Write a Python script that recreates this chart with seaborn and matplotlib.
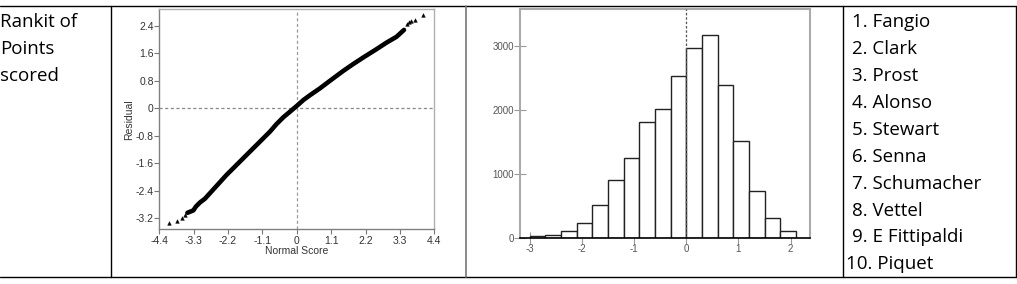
import numpy as np
import pandas as pd
import seaborn as sns
import matplotlib.pyplot as plt
from matplotlib.lines import Line2D

# Normal probability plot (dense part of the curve)
qq_score = [-3.50, -3.31, -3.23, -3.10, -2.94, -2.78, -2.57, -2.25, -1.93, -1.50,
            -1.18, -0.86, -0.65, -0.43, -0.22, 0.0, 0.21, 0.42, 0.74, 1.06,
            1.49, 1.81, 2.13, 2.55, 2.87, 3.19, 3.43]
qq_resid = [-3.04, -2.97, -2.86, -2.74, -2.63, -2.47, -2.26, -1.94, -1.65, -1.26,
            -0.97, -0.68, -0.46, -0.26, -0.10, 0.07, 0.24, 0.38, 0.58, 0.80,
            1.09, 1.29, 1.48, 1.72, 1.91, 2.08, 2.28]
# isolated points in the tails
tail_score = [-4.08, -3.82, -3.67, -3.58, 3.52, 3.60, 3.66, 3.78, 4.05]
tail_resid = [-3.34, -3.27, -3.20, -3.11, 2.45, 2.51, 2.55, 2.57, 2.71]

qq_xticks = [-4.4, -3.3, -2.2, -1.1, 0, 1.1, 2.2, 3.3, 4.4]
qq_xlabels = ['-4.4', '-3.3', '-2.2', '-1.1', '0', '1.1', '2.2', '3.3', '4.4']
qq_yticks = [-3.2, -2.4, -1.6, -0.8, 0, 0.8, 1.6, 2.4]
qq_ylabels = ['-3.2', '-2.4', '-1.6', '-0.8', '0', '0.8', '1.6', '2.4']

# Histogram of residuals
bin_edges = [-3.0, -2.7, -2.4, -2.1, -1.8, -1.5, -1.2, -0.9, -0.6, -0.3,
             0.0, 0.3, 0.6, 0.9, 1.2, 1.5, 1.8, 2.1]
bin_counts = [26, 42, 105, 225, 507, 910, 1255, 1819, 2012, 2530,
              2980, 3173, 2400, 1511, 726, 303, 105]
hist_xticks = [-3, -2, -1, 0, 1, 2]
hist_yticks = [0, 1000, 2000, 3000]

row_label = ['Rankit of', 'Points', 'scored']
drivers = ['1. Fangio', '2. Clark', '3. Prost', '4. Alonso', '5. Stewart',
           '6. Senna', '7. Schumacher', '8. Vettel', '9. E Fittipaldi', '10. Piquet']

sns.set_style('white')
plt.rcParams['font.family'] = ['Liberation Sans', 'DejaVu Sans']

W, H = 1017, 284
fig = plt.figure(figsize=(W / 100, H / 100), dpi=100)


def fx(px):
    return px / W


def fy(py):
    return 1 - py / H


# ---- table grid
grid = [((0, 6), (1016, 6), 'black', 1.0),
        ((0, 277), (1016, 277), 'black', 1.0),
        ((111, 6), (111, 277), 'black', 1.0),
        ((466, 6), (466, 277), '#777777', 1.2),
        ((843, 6), (843, 277), 'black', 1.0),
        ((1015.5, 6), (1015.5, 277), 'black', 1.0)]
for (x0, y0), (x1, y1), c, lw in grid:
    fig.add_artist(Line2D([fx(x0), fx(x1)], [fy(y0), fy(y1)],
                          transform=fig.transFigure, color=c, lw=lw))

# ---- text cells
for i, s in enumerate(row_label):
    fig.text(fx(0), fy(26.7 + 27 * i), s, fontsize=13.5, family='Open Sans',
             ha='left', va='baseline', color='black')
for i, s in enumerate(drivers):
    x0 = 846 if s.startswith('10') else 852
    fig.text(fx(x0), fy(27.3 + 26.9 * i), s, fontsize=13.5, family='Open Sans',
             ha='left', va='baseline', color='black')

# ---- normal probability plot
ax1 = fig.add_axes([fx(159.3), fy(229.3), fx(275), 220 / H])
ax1.axhline(0, color='#888888', lw=0.9, ls=(0, (2.5, 2)), zorder=1)
ax1.axvline(0, color='#999999', lw=0.9, ls=(0, (2.5, 2)), zorder=1)
sns.lineplot(x=qq_score, y=qq_resid, sort=False, color='black', lw=3.3,
             ax=ax1, zorder=3)
sns.scatterplot(x=tail_score, y=tail_resid, marker='^', s=7, color='black',
                edgecolor='black', linewidth=0.3, ax=ax1, zorder=3)
ax1.set_xlim(-4.4, 4.4)
ax1.set_ylim(-3.52, 2.88)
ax1.set_xticks(qq_xticks, qq_xlabels)
ax1.set_yticks(qq_yticks, qq_ylabels)
ax1.tick_params(bottom=True, left=True, direction='out', length=3.5, width=0.8,
                color='#777777', labelsize=7.5, labelcolor='#333333', pad=1)
ax1.tick_params(axis='y', pad=0.5)
for side in ['top', 'right']:
    ax1.spines[side].set_color('#b0b0b0')
    ax1.spines[side].set_linewidth(1.0)
for side in ['left', 'bottom']:
    ax1.spines[side].set_color('#808080')
    ax1.spines[side].set_linewidth(1.0)
ax1.set_xlabel('Normal Score', fontsize=7.5, color='#333333', labelpad=0.5)
ax1.set_ylabel('Residual', fontsize=7.5, color='#333333', labelpad=1)

# ---- histogram of residuals
ax2 = fig.add_axes([fx(520), fy(237.7), fx(290), 228.4 / H])
centers = (np.array(bin_edges[:-1]) + np.array(bin_edges[1:])) / 2
hist_df = pd.DataFrame({'resid': centers, 'count': bin_counts})
sns.histplot(data=hist_df, x='resid', weights='count', bins=bin_edges,
             color='white', edgecolor='#222222', linewidth=1.0, alpha=1,
             ax=ax2, zorder=2)
ax2.axvline(0, color='#555555', lw=0.9, ls=(0, (2, 1.5)), zorder=3)
ax2.set_xlim(-3.186, 2.37)
ax2.set_ylim(0, 3580)
ax2.set_xticks(hist_xticks, [str(t) for t in hist_xticks])
ax2.set_yticks(hist_yticks, [str(t) for t in hist_yticks])
ax2.tick_params(bottom=True, left=True, direction='inout', length=8, width=0.8,
                color='#999999', labelsize=7, labelcolor='#555555', pad=0.5)
ax2.set_xlabel('')
ax2.set_ylabel('')
for side in ['top', 'right', 'left']:
    ax2.spines[side].set_color('#aaaaaa')
    ax2.spines[side].set_linewidth(1.5)
ax2.spines['bottom'].set_color('black')
ax2.spines['bottom'].set_linewidth(1.2)
ax2.spines['bottom'].set_zorder(4)

fig.savefig('out.png', dpi=100)
